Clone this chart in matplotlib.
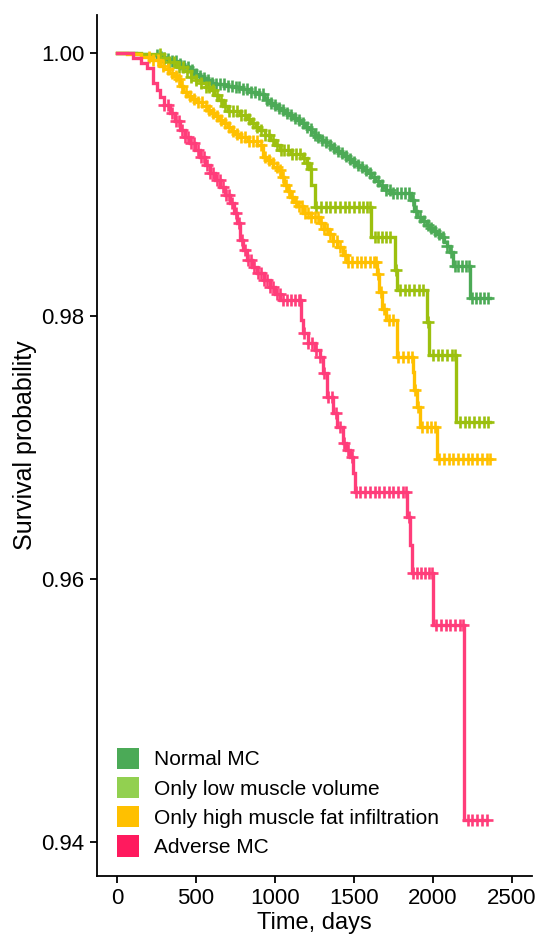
import numpy as np
import matplotlib
matplotlib.use("Agg")
import matplotlib.pyplot as plt
from matplotlib.patches import Patch

plt.rcParams["font.family"] = ["Liberation Sans", "DejaVu Sans"]

# Kaplan-Meier step curves (time in days, survival probability)
normal_t = [0, 120, 200, 260, 290, 320, 350, 380, 400, 420, 440, 462, 480, 500, 520, 540,
            560, 580, 600, 620, 680, 740, 800, 850, 880, 900, 930, 950, 970, 990, 1015,
            1040, 1065, 1090, 1115, 1140, 1165, 1190, 1210, 1230, 1250, 1270, 1295, 1320,
            1345, 1370, 1390, 1410, 1435, 1460, 1485, 1510, 1535, 1560, 1585, 1610, 1635,
            1660, 1680, 1700, 1730, 1860, 1880, 1900, 1930, 1960, 1980, 2000, 2020, 2044,
            2070, 2090, 2110, 2127, 2234]
normal_s = [1.0, 0.99992, 0.99985, 0.99970, 0.99962, 0.99955, 0.99942, 0.99930, 0.99918,
            0.99905, 0.99890, 0.99871, 0.99855, 0.99840, 0.99825, 0.99810, 0.99797,
            0.99785, 0.99775, 0.99765, 0.99752, 0.99740, 0.99725, 0.99706, 0.99695,
            0.99685, 0.99660, 0.99640, 0.99622, 0.99605, 0.99585, 0.99565, 0.99545,
            0.99525, 0.99508, 0.99490, 0.99465, 0.99440, 0.99420, 0.99400, 0.99380,
            0.99361, 0.99340, 0.99320, 0.99298, 0.99275, 0.99258, 0.99240, 0.99218,
            0.99195, 0.99172, 0.99150, 0.99130, 0.99110, 0.99085, 0.99060, 0.99030,
            0.99000, 0.98980, 0.98960, 0.98935, 0.98880, 0.98800, 0.98753, 0.98720,
            0.98690, 0.98670, 0.98650, 0.98625, 0.98601, 0.98565, 0.98530, 0.98490,
            0.98380, 0.98140]
normal_end = 2361
normal_cens = [250, 275, 300, 325, 350, 375, 400, 425, 450, 475, 500, 525, 550, 575, 600,
               625, 650, 675, 700, 725, 750, 775, 800, 825, 850, 875, 900, 925, 950, 975,
               1000, 1025, 1050, 1075, 1100, 1125, 1150, 1175, 1200, 1225, 1250, 1275,
               1300, 1325, 1350, 1375, 1400, 1425, 1450, 1475, 1500, 1525, 1550, 1575,
               1600, 1625, 1650, 1675, 1700, 1725, 1750, 1775, 1800, 1825, 1850, 1872,
               1895, 1920, 1945, 1970, 1990, 2015, 2040, 2065, 2090, 2115, 2140, 2160,
               2185, 2210, 2228, 2250, 2275, 2300, 2325, 2350]

lowvol_t = [0, 150, 272, 330, 380, 420, 470, 500, 530, 560, 589, 615, 640, 670, 700, 780,
            820, 850, 880, 905, 935, 968, 1000, 1032, 1100, 1177, 1200, 1215, 1230, 1253,
            1608, 1760, 1772, 1962, 1975, 2146]
lowvol_s = [1.0, 0.99995, 0.99960, 0.99930, 0.99894, 0.99860, 0.99820, 0.99795, 0.99770,
            0.99745, 0.99719, 0.99680, 0.99640, 0.99600, 0.99560, 0.99530, 0.99500,
            0.99470, 0.99440, 0.99414, 0.99375, 0.99338, 0.99300, 0.99262, 0.99230,
            0.99201, 0.99160, 0.99120, 0.99000, 0.98829, 0.98601, 0.98350, 0.98198,
            0.97954, 0.97703, 0.97194]
lowvol_end = 2361
lowvol_cens = [270, 300, 330, 360, 390, 415, 440, 470, 500, 530, 560, 585, 610, 635, 660,
               685, 710, 735, 760, 785, 810, 835, 860, 885, 910, 935, 960, 985, 1010, 1035,
               1060, 1085, 1110, 1135, 1160, 1185, 1205, 1228, 1260, 1290, 1320, 1350,
               1380, 1410, 1440, 1470, 1500, 1530, 1560, 1585, 1603, 1630, 1655, 1680,
               1705, 1730, 1765, 1790, 1820, 1850, 1880, 1910, 1940, 1968, 2000, 2030,
               2060, 2090, 2120, 2140, 2170, 2200, 2230, 2260, 2290, 2320, 2350]

highfat_t = [0, 60, 150, 209, 272, 300, 330, 355, 380, 400, 418, 445, 470, 506, 540, 570,
             595, 620, 645, 671, 700, 730, 755, 778, 830, 886, 924, 950, 970, 990, 1013,
             1040, 1060, 1080, 1095, 1120, 1140, 1177, 1230, 1285, 1310, 1340, 1365, 1392,
             1430, 1456, 1646, 1660, 1680, 1700, 1772, 1873, 1880, 1899, 1918, 2025]
highfat_s = [1.0, 0.99995, 0.99970, 0.99947, 0.99900, 0.99875, 0.99850, 0.99825, 0.99800,
             0.99750, 0.99700, 0.99675, 0.99650, 0.99627, 0.99597, 0.99567, 0.99543,
             0.99520, 0.99494, 0.99468, 0.99440, 0.99410, 0.99385, 0.99361, 0.99330,
             0.99300, 0.99209, 0.99185, 0.99160, 0.99135, 0.99110, 0.99055, 0.99000,
             0.98950, 0.98905, 0.98870, 0.98840, 0.98783, 0.98750, 0.98707, 0.98665,
             0.98620, 0.98570, 0.98525, 0.98460, 0.98411, 0.98320, 0.98180, 0.98050,
             0.97970, 0.97688, 0.97574, 0.97437, 0.97308, 0.97156, 0.96912]
highfat_end = 2361
highfat_cens = [200, 230, 260, 290, 320, 345, 370, 390, 410, 435, 460, 485, 510, 535, 560,
                585, 610, 635, 660, 685, 710, 735, 760, 785, 810, 835, 860, 885, 910, 935,
                960, 985, 1010, 1030, 1050, 1070, 1090, 1110, 1130, 1150, 1170, 1190, 1210,
                1230, 1250, 1270, 1290, 1310, 1330, 1350, 1370, 1390, 1410, 1440, 1465,
                1490, 1520, 1545, 1570, 1600, 1625, 1640, 1655, 1672, 1690, 1720, 1750,
                1780, 1810, 1840, 1870, 1885, 1905, 1930, 1960, 1990, 2015, 2040, 2070,
                2100, 2130, 2160, 2190, 2220, 2250, 2280, 2310, 2340, 2360]

adverse_t = [0, 101, 150, 190, 228, 250, 272, 300, 335, 365, 399, 430, 462, 495, 525, 555,
             589, 620, 652, 685, 715, 740, 759, 778, 800, 823, 855, 886, 930, 968, 1000,
             1032, 1165, 1180, 1209, 1250, 1285, 1304, 1329, 1367, 1392, 1430, 1450, 1475,
             1494, 1506, 1835, 1855, 1868, 2000, 2196]
adverse_s = [1.0, 0.99962, 0.99925, 0.99886, 0.99772, 0.99720, 0.99665, 0.99605, 0.99544,
             0.99480, 0.99414, 0.99365, 0.99316, 0.99262, 0.99209, 0.99148, 0.99087,
             0.99034, 0.98981, 0.98920, 0.98859, 0.98780, 0.98707, 0.98578, 0.98500,
             0.98426, 0.98376, 0.98327, 0.98270, 0.98220, 0.98170, 0.98122, 0.97970,
             0.97871, 0.97795, 0.97740, 0.97688, 0.97566, 0.97384, 0.97262, 0.97156,
             0.97034, 0.96980, 0.96928, 0.96806, 0.96661, 0.96471, 0.96258, 0.96045,
             0.95650, 0.94167]
adverse_end = 2342
adverse_cens = [300, 325, 350, 370, 390, 410, 430, 450, 470, 490, 510, 530, 550, 570, 590,
                610, 630, 650, 670, 690, 710, 730, 750, 770, 790, 810, 830, 850, 870, 890,
                910, 930, 950, 970, 990, 1010, 1030, 1050, 1075, 1100, 1125, 1150, 1160,
                1185, 1210, 1235, 1260, 1285, 1310, 1335, 1360, 1385, 1410, 1435, 1460,
                1485, 1510, 1540, 1570, 1600, 1630, 1660, 1690, 1720, 1750, 1780, 1810,
                1830, 1850, 1875, 1900, 1925, 1950, 1975, 1995, 2020, 2050, 2080, 2110,
                2140, 2170, 2190, 2220, 2250, 2280, 2310, 2340]

labels = ["Normal MC", "Only low muscle volume", "Only high muscle fat infiltration", "Adverse MC"]
line_colors = ["#4CAA56", "#9CC00F", "#FFC000", "#FF3D7A"]
key_colors = ["#4BAA57", "#92D050", "#FFC000", "#FF1A5E"]

series = [
    (normal_t, normal_s, normal_end, normal_cens),
    (lowvol_t, lowvol_s, lowvol_end, lowvol_cens),
    (highfat_t, highfat_s, highfat_end, highfat_cens),
    (adverse_t, adverse_s, adverse_end, adverse_cens),
]

fig = plt.figure(figsize=(5.39, 9.38), dpi=100)
ax = fig.add_axes([0.18, 0.0661, 0.807, 0.918])

for (t, s, end, cens), col in zip(series, line_colors):
    t = np.array(t + [end], dtype=float)
    s = np.array(s + [s[-1]], dtype=float)
    ax.step(t, s, where="post", color=col, linewidth=2.4, solid_joinstyle="miter")
    c = np.array(cens, dtype=float)
    idx = np.searchsorted(t, c, side="right") - 1
    ax.plot(c, s[idx], linestyle="none", marker="+", markersize=8.5,
            markeredgewidth=1.9, color=col)

ax.set_xlim(-127, 2627)
ax.set_ylim(0.9374, 1.0029)
ax.set_xticks([0, 500, 1000, 1500, 2000, 2500])
ax.set_yticks([0.94, 0.96, 0.98, 1.00])
ax.set_yticklabels(["0.94", "0.96", "0.98", "1.00"])

for side in ["top", "right"]:
    ax.spines[side].set_visible(False)
for side in ["left", "bottom"]:
    ax.spines[side].set_linewidth(1.3)
ax.tick_params(axis="both", length=5, width=1.3, labelsize=16, colors="black", pad=4)

ax.set_xlabel("Time, days", fontsize=17, labelpad=2)
ax.set_ylabel("Survival probability", fontsize=18, labelpad=3)

handles = [Patch(facecolor=c, edgecolor="none") for c in key_colors]
ax.legend(handles, labels, loc="lower left", bbox_to_anchor=(0.046, 0.022),
          frameon=False, fontsize=15, handlelength=1.05, handleheight=1.2,
          handletextpad=0.72, labelspacing=0.36, borderpad=0, borderaxespad=0)

fig.savefig("out.png", dpi=100)
